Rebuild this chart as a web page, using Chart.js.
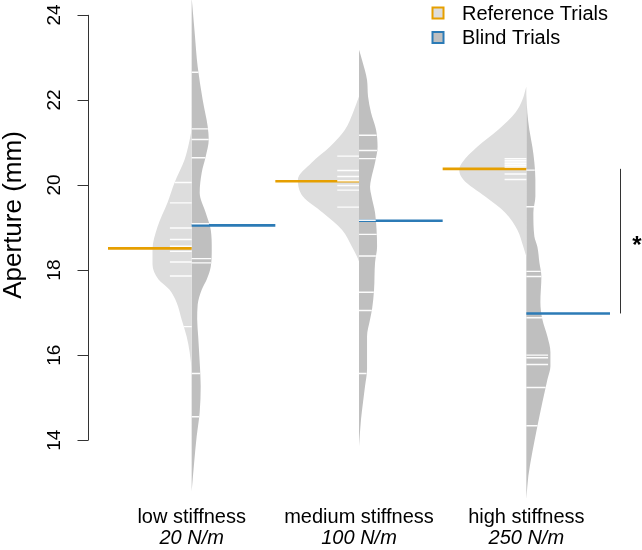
<!DOCTYPE html>
<html>
<head>
<meta charset="utf-8">
<script src="https://cdn.jsdelivr.net/npm/chart.js@4.4.1/dist/chart.umd.min.js"></script>
<style>
  html, body { margin: 0; padding: 0; background: #fff; }
</style>
</head>
<body>
<canvas id="graph" width="642" height="550"></canvas>
<script>
const stiffnessLabels = ['low stiffness', 'medium stiffness', 'high stiffness'];
const springRates = ['20 N/m', '100 N/m', '250 N/m'];
const apertureTicks = [14, 16, 18, 20, 22, 24];

// mean aperture per condition (mm)
const referenceMeans = [18.51, 20.09, 20.38];
const blindMeans = [19.05, 19.16, 16.98];

// single trials, drawn as white bean lines
const lowReferenceTrials = [20.06, 19.58, 18.99, 18.72, 18.56, 18.44, 18.19, 17.86, 16.67];
const lowBlindTrials = [22.65, 21.32, 21.07, 20.64, 19.09, 18.27, 18.17, 15.57, 14.55];
const mediumReferenceTrials = [20.68, 20.34, 20.20, 20.10, 19.99, 19.88, 19.48];
const mediumBlindTrials = [21.17, 20.81, 20.62, 19.17, 18.84, 18.33, 17.48, 17.05, 15.57];
const highReferenceTrials = [20.62, 20.58, 20.54, 20.50, 20.46, 20.42, 20.26, 20.13];
const highBlindTrials = [20.35, 19.49, 17.97, 17.85, 16.88, 16.00, 15.94, 15.78, 15.24, 14.34];

// bean outlines: [aperture, density]
const lowReferenceDensity = [[21.30, 0], [20.95, 1.8], [20.60, 4.2], [20.06, 10.2], [19.59, 14.4], [19.02, 20.4],
    [18.48, 23.4], [18.13, 23.4], [17.78, 19.8], [17.54, 13.2], [17.24, 9.0], [16.84, 6.0], [16.44, 3.0], [16.07, 1.2], [15.67, 0]];
const lowBlindDensity = [[24.40, 0], [23.58, 1.8], [22.78, 3.6], [22.00, 6.6], [21.37, 9.6], [21.07, 10.2], [20.67, 8.4],
    [20.29, 6.0], [19.82, 4.8], [19.35, 8.4], [18.95, 11.4], [18.48, 12.0], [18.08, 11.4], [17.78, 9.0], [17.54, 6.0],
    [17.19, 3.6], [16.84, 3.3], [16.44, 3.9], [15.83, 4.8], [15.27, 5.4], [14.66, 4.8], [14.09, 3.0], [13.48, 1.5], [12.80, 0]];
const mediumReferenceDensity = [[22.08, 0], [21.70, 3.6], [21.30, 8.4], [20.90, 17.4], [20.53, 28.2], [20.13, 36.5],
    [19.73, 33.5], [19.35, 21.6], [18.95, 10.2], [18.55, 4.2], [18.32, 1.2], [18.20, 0]];
const mediumBlindDensity = [[23.18, 0], [22.94, 1.8], [22.47, 4.8], [22.08, 5.4], [21.70, 7.2], [21.30, 10.2], [20.90, 11.1],
    [20.53, 9.6], [20.13, 7.2], [19.96, 6.6], [19.73, 7.5], [19.35, 9.6], [18.95, 10.5], [18.55, 10.8], [18.18, 9.6],
    [17.54, 9.0], [17.08, 7.8], [16.84, 6.6], [16.44, 4.8], [15.67, 4.8], [15.27, 3.6], [14.89, 2.4], [14.49, 1.2], [13.86, 0]];
const highReferenceDensity = [[22.31, 0], [22.00, 2.4], [21.70, 6.6], [21.30, 16.8], [20.90, 29.3], [20.53, 38.3],
    [20.36, 40.1], [20.13, 37.7], [19.73, 24.6], [19.35, 12.6], [18.95, 5.4], [18.55, 1.8], [18.32, 0]];
const highBlindDensity = [[22.12, 0], [21.70, 0.6], [21.30, 1.8], [20.90, 3.6], [20.53, 4.8], [20.13, 5.4], [19.73, 5.4],
    [19.35, 4.2], [18.79, 4.8], [18.55, 6.6], [18.18, 7.8], [17.85, 9.0], [17.24, 8.4], [16.84, 9.6], [16.44, 12.6],
    [16.07, 14.4], [15.74, 14.4], [15.43, 12.6], [14.89, 9.6], [14.33, 6.6], [13.72, 3.6], [13.16, 1.2], [12.62, 0]];

const FONT = '"Liberation Sans", Arial, Helvetica, sans-serif';
const refColor = '#e69f00';
const blindColor = '#2c7bb6';
const refFill = '#dddddd';
const blindFill = '#bfbfbf';
const beanScale = 0.01;   // density -> x units
const lineLength = 0.13;  // max length of a bean line (x units)

function widthAt(density, v) {
    for (let i = 0; i < density.length - 1; i++) {
        const [a0, d0] = density[i];
        const [a1, d1] = density[i + 1];
        if (v <= a0 && v >= a1) {
            return d0 + (d1 - d0) * (a0 - v) / (a0 - a1);
        }
    }
    return 0;
}

function beanOutline(density, center, side) {
    return density.map(([aperture, d]) => ({ x: center + side * d * beanScale, y: aperture }));
}

function beanLines(trials, density, center, side) {
    let pts = [];
    trials.forEach(v => {
        let len = Math.min(lineLength, widthAt(density, v) * beanScale);
        pts.push({ x: center, y: v }, { x: center + side * len, y: v }, { x: null, y: null });
    });
    return pts;
}

function meanLines(means, side) {
    let pts = [];
    means.forEach((m, i) => {
        let c = i + 1;
        pts.push({ x: c, y: m }, { x: c + side * 0.5, y: m }, { x: null, y: null });
    });
    return pts;
}

const halves = [
    { density: lowReferenceDensity, trials: lowReferenceTrials, center: 1, side: -1, fill: refFill },
    { density: lowBlindDensity, trials: lowBlindTrials, center: 1, side: 1, fill: blindFill },
    { density: mediumReferenceDensity, trials: mediumReferenceTrials, center: 2, side: -1, fill: refFill },
    { density: mediumBlindDensity, trials: mediumBlindTrials, center: 2, side: 1, fill: blindFill },
    { density: highReferenceDensity, trials: highReferenceTrials, center: 3, side: -1, fill: refFill },
    { density: highBlindDensity, trials: highBlindTrials, center: 3, side: 1, fill: blindFill },
];

let datasets = [];
halves.forEach(h => {
    datasets.push({
        data: beanOutline(h.density, h.center, h.side),
        indexAxis: 'y',
        cubicInterpolationMode: 'monotone',
        fill: 'shape',
        backgroundColor: h.fill,
        borderWidth: 0,
        pointRadius: 0,
        order: 4,
    });
    datasets.push({
        data: beanLines(h.trials, h.density, h.center, h.side),
        borderColor: 'rgba(255,255,255,0.95)',
        borderWidth: 1.4,
        pointRadius: 0,
        fill: false,
        spanGaps: false,
        order: 2,
    });
});
datasets.push({
    data: meanLines(referenceMeans, -1),
    borderColor: refColor,
    borderWidth: 2.6,
    pointRadius: 0,
    fill: false,
    spanGaps: false,
    order: 3,
});
datasets.push({
    data: meanLines(blindMeans, 1),
    borderColor: blindColor,
    borderWidth: 2.6,
    pointRadius: 0,
    fill: false,
    spanGaps: false,
    order: 3,
});

// y axis drawn R-style: line only from first to last tick, labels parallel to the axis
const apertureAxis = {
    id: 'apertureAxis',
    afterDraw(chart) {
        const ctx = chart.ctx;
        const y = chart.scales.y;
        const axisX = Math.round(chart.chartArea.left - 20) + 0.5;
        ctx.save();
        ctx.strokeStyle = '#333';
        ctx.lineWidth = 1;
        ctx.beginPath();
        ctx.moveTo(axisX, y.getPixelForValue(apertureTicks[0]));
        ctx.lineTo(axisX, y.getPixelForValue(apertureTicks[apertureTicks.length - 1]));
        apertureTicks.forEach(t => {
            let py = Math.round(y.getPixelForValue(t)) + 0.5;
            ctx.moveTo(axisX - 11, py);
            ctx.lineTo(axisX, py);
        });
        ctx.stroke();

        ctx.fillStyle = '#000';
        ctx.textAlign = 'center';
        ctx.textBaseline = 'alphabetic';
        ctx.font = '19px ' + FONT;
        apertureTicks.forEach(t => {
            ctx.save();
            ctx.translate(axisX - 28.5, y.getPixelForValue(t));
            ctx.rotate(-Math.PI / 2);
            ctx.fillText(String(t), 0, 0);
            ctx.restore();
        });

        ctx.font = '26px ' + FONT;
        ctx.save();
        ctx.translate(20.5, chart.chartArea.top + 215);
        ctx.rotate(-Math.PI / 2);
        ctx.fillText('Aperture (mm)', 0, 0);
        ctx.restore();
        ctx.restore();
    }
};

// legend in the top right corner
const trialLegend = {
    id: 'trialLegend',
    afterDraw(chart) {
        const ctx = chart.ctx;
        const items = [
            { label: 'Reference Trials', fill: refFill, stroke: refColor },
            { label: 'Blind Trials', fill: blindFill, stroke: blindColor },
        ];
        const boxX = chart.width - 209.5;
        ctx.save();
        ctx.font = '20px ' + FONT;
        ctx.textAlign = 'left';
        ctx.textBaseline = 'alphabetic';
        items.forEach((item, i) => {
            let top = 7.5 + i * 24.5;
            ctx.fillStyle = item.fill;
            ctx.fillRect(boxX, top, 11, 11);
            ctx.strokeStyle = item.stroke;
            ctx.lineWidth = 2;
            ctx.strokeRect(boxX, top, 11, 11);
            ctx.fillStyle = '#000';
            ctx.fillText(item.label, chart.width - 180, 19.5 + i * 24.5);
        });
        ctx.restore();
    }
};

// significance bracket between the high stiffness means
const significance = {
    id: 'significance',
    afterDatasetsDraw(chart) {
        const ctx = chart.ctx;
        const area = chart.chartArea;
        const y = chart.scales.y;
        const top = y.getPixelForValue(referenceMeans[2]);
        const bottom = y.getPixelForValue(blindMeans[2]);
        const bx = Math.round(area.right + 10) + 0.5;
        ctx.save();
        ctx.strokeStyle = '#333';
        ctx.lineWidth = 1;
        ctx.beginPath();
        ctx.moveTo(bx, top);
        ctx.lineTo(bx, bottom);
        ctx.stroke();
        ctx.fillStyle = '#000';
        ctx.font = 'bold 24px ' + FONT;
        ctx.textAlign = 'center';
        ctx.textBaseline = 'middle';
        ctx.fillText('*', area.right + 27, (top + bottom) / 2 + 5.5);
        ctx.restore();
    }
};

const categoryTicks = axis => {
    axis.ticks = [1, 2, 3].map(v => ({ value: v }));
};

const ctx = document.getElementById('graph').getContext('2d');
const beanChart = new Chart(ctx, {
    type: 'line',
    data: { datasets: datasets },
    options: {
        responsive: false,
        animation: false,
        events: [],
        layout: { padding: { left: 108, right: 32, top: 0, bottom: 4 } },
        plugins: {
            legend: { display: false },
            tooltip: { enabled: false },
        },
        scales: {
            y: { type: 'linear', min: 12.5, max: 24.35, display: false },
            x: {
                type: 'linear', position: 'bottom', weight: 0,
                min: 0.5, max: 3.5,
                afterBuildTicks: categoryTicks,
                grid: { display: false, drawTicks: false },
                border: { display: false },
                ticks: {
                    callback: v => stiffnessLabels[v - 1],
                    color: '#000',
                    font: { family: FONT, size: 20, lineHeight: 1 },
                    padding: 3,
                    maxRotation: 0, autoSkip: false,
                },
            },
            x2: {
                type: 'linear', position: 'bottom', weight: 1,
                min: 0.5, max: 3.5,
                afterBuildTicks: categoryTicks,
                grid: { display: false, drawTicks: false },
                border: { display: false },
                ticks: {
                    callback: v => springRates[v - 1],
                    color: '#000',
                    font: { family: FONT, size: 20, style: 'italic', lineHeight: 1 },
                    padding: -2,
                    maxRotation: 0, autoSkip: false,
                },
            },
        },
    },
    plugins: [apertureAxis, trialLegend, significance],
});
</script>
</body>
</html>
